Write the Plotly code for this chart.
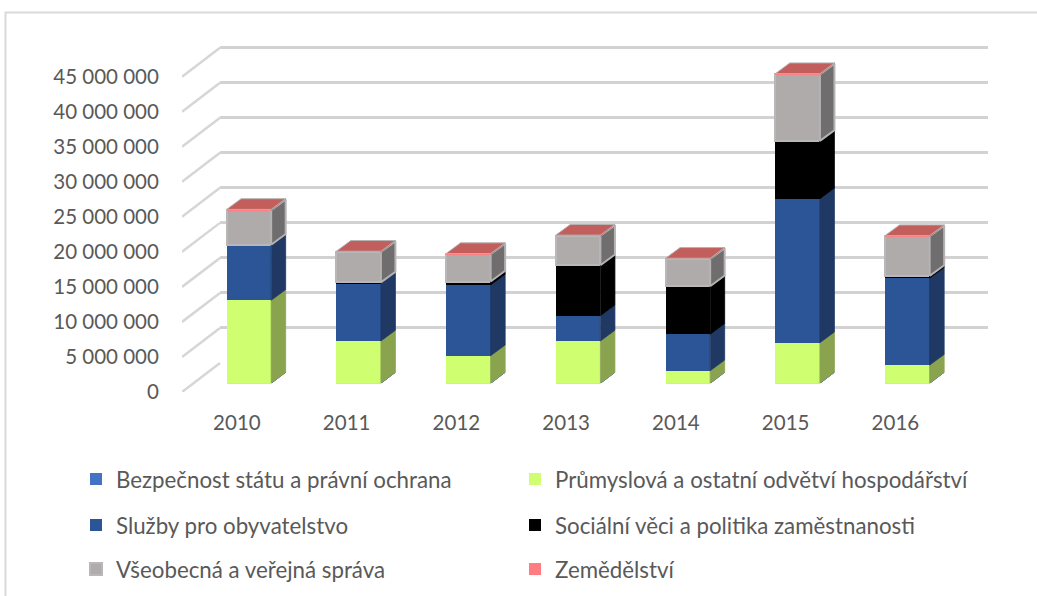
import plotly.graph_objects as go

years = [2010, 2011, 2012, 2013, 2014, 2015, 2016]
bezpecnost = [0.05, 0.05, 0.05, 0.05, 0.05, 0.05, 0.05]
prumysl = [11.8, 6.0, 3.9, 6.0, 1.75, 5.75, 2.55]
sluzby = [7.9, 8.25, 10.1, 3.6, 5.2, 20.55, 12.4]
socialni = [0.02, 0.1, 0.47, 7.2, 6.85, 8.25, 0.33]
sprava = [4.95, 4.35, 3.9, 4.2, 3.9, 9.5, 5.65]
zemedelstvi = [0.1, 0.1, 0.1, 0.1, 0.1, 0.1, 0.1]

names = ["Bezpečnost státu a právní ochrana", "Průmyslová a ostatní odvětví hospodářství",
         "Služby pro obyvatelstvo", "Sociální věci a politika zaměstnanosti",
         "Všeobecná a veřejná správa", "Zemědělství"]
series = [bezpecnost, prumysl, sluzby, socialni, sprava, zemedelstvi]
front_colors = ["#4472C4", "#CFFF70", "#2B5597", "#000000", "#AFABAB", "#FF7C80"]
side_colors = ["#2F5597", "#8AA34F", "#1F3864", "#000000", "#6F6D6D", "#C25F5D"]
top_color = "#C25F5D"
legend_px = [(76, 479), (515, 479), (76, 525), (515, 525), (76, 569), (515, 569)]
y_ticks = [v * 1_000_000 for v in range(0, 50, 5)]
y_labels = [f"{v} 000 000" if v else "0" for v in range(0, 50, 5)]

W, H = 1037, 596
CAT = 109.75           # px per category
UNIT = 35.03 / 5       # px per million
SPAN = 50              # y range, millions
FRONT = (182, 392)
BAR = (194, 383.3)
BACK = (220, 363)
GRID_DX, GRID_DY = 38, 29
BAR_DX, BAR_DY = 14.5, 10.7
BAR_W = 44.6 / CAT


def dom_x(x0):
    return [x0 / W, (x0 + 7 * CAT) / W]


def dom_y(y0):
    return [1 - y0 / H, 1 - (y0 - SPAN * UNIT) / H]


fig = go.Figure()
xr = [2009.5, 2016.5]
yr = [0, SPAN * 1_000_000]
hidden = dict(showgrid=False, zeroline=False, showticklabels=False, ticks="", showline=False, fixedrange=True)

# back wall gridlines
fig.add_trace(go.Scatter(x=[2010], y=[0], mode="markers", marker=dict(opacity=0), showlegend=False,
                         hoverinfo="skip", xaxis="x", yaxis="y"))
# floor / side wall diagonals and axis labels on the front plane
dx_yr = GRID_DX / CAT
dy_val = GRID_DY / UNIT * 1_000_000
diag_x, diag_y = [], []
for v in y_ticks:
    diag_x += [xr[0], xr[0] + dx_yr, None]
    diag_y += [v, v + dy_val, None]
fig.add_trace(go.Scatter(x=diag_x, y=diag_y, mode="lines", line=dict(color="#D6D6D6", width=2.5),
                         showlegend=False, hoverinfo="skip", xaxis="x2", yaxis="y2"))

# stacked bars with computed side and top faces
base = [0.0] * len(years)
bx = BAR_DX / CAT
by = BAR_DY / UNIT * 1_000_000
hw = BAR_W / 2
for i, (name, vals) in enumerate(zip(names, series)):
    m = [v * 1_000_000 for v in vals]
    line = dict(color="#B9B7B7", width=2) if name.startswith("Všeobecná") else dict(width=0)
    fig.add_trace(go.Bar(x=years, y=m, name=name, marker=dict(color=front_colors[i], line=line),
                         xaxis="x3", yaxis="y3", legend="legend" if i == 0 else f"legend{i + 1}"))
    sx, sy = [], []
    for j, yr_ in enumerate(years):
        b0 = base[j] * 1_000_000
        t0 = b0 + m[j]
        r = yr_ + hw
        sx += [r, r + bx, r + bx, r, r, None]
        sy += [b0, b0 + by, t0 + by, t0, b0, None]
        base[j] += vals[j]
    side_line = dict(color="#B4B2B2", width=2) if name.startswith("Všeobecná") else dict(width=0.8, color=side_colors[i])
    fig.add_trace(go.Scatter(x=sx, y=sy, mode="lines", fill="toself", fillcolor=side_colors[i], line=side_line,
                             showlegend=False, hoverinfo="skip", xaxis="x3", yaxis="y3"))

tx, ty = [], []
for j, yr_ in enumerate(years):
    t0 = base[j] * 1_000_000
    l, r = yr_ - hw, yr_ + hw
    tx += [l, r, r + bx, l + bx, l, None]
    ty += [t0, t0, t0 + by, t0 + by, t0, None]
fig.add_trace(go.Scatter(x=tx, y=ty, mode="lines", fill="toself", fillcolor=top_color,
                         line=dict(color="#B4B2B2", width=1), showlegend=False, hoverinfo="skip",
                         xaxis="x3", yaxis="y3"))

tick_font = dict(family="Lato, Carlito, sans-serif", size=20.5, color="#595959")
legend_font = dict(family="Lato, Carlito, sans-serif", size=22.3, color="#595959")
legends = {}
for i, (px, py) in enumerate(legend_px):
    key = "legend" if i == 0 else f"legend{i + 1}"
    legends[key] = dict(x=px / W, y=1 - py / H, xanchor="left", yanchor="middle", font=legend_font,
                        bgcolor="rgba(0,0,0,0)", borderwidth=0)

fig.update_layout(
    width=W, height=H, margin=dict(l=0, r=0, t=0, b=0, autoexpand=False), paper_bgcolor="white",
    plot_bgcolor="rgba(0,0,0,0)",
    barmode="stack", bargap=1 - BAR_W, font=tick_font, showlegend=True,
    xaxis=dict(domain=dom_x(BACK[0]), range=xr, anchor="y", **hidden),
    yaxis=dict(domain=dom_y(BACK[1]), range=yr, anchor="x", showgrid=True, gridcolor="#D2D2D2", gridwidth=2.5,
               tickvals=y_ticks, zeroline=False, showticklabels=False, ticks="", showline=False, fixedrange=True),
    xaxis2=dict(domain=dom_x(FRONT[0]), range=xr, anchor="y2", showgrid=False, zeroline=False, showline=False,
                tickvals=years, ticktext=[str(y) for y in years], ticks="outside", ticklen=12,
                tickcolor="rgba(0,0,0,0)", tickfont=tick_font, fixedrange=True),
    yaxis2=dict(domain=dom_y(FRONT[1]), range=yr, anchor="x2", showgrid=False, zeroline=False, showline=False,
                tickvals=y_ticks, ticktext=y_labels, ticks="outside", ticklen=18,
                tickcolor="rgba(0,0,0,0)", tickfont=tick_font, fixedrange=True),
    xaxis3=dict(domain=dom_x(BAR[0]), range=xr, anchor="y3", **hidden),
    yaxis3=dict(domain=dom_y(BAR[1]), range=yr, anchor="x3", **hidden),
    shapes=[dict(type="rect", xref="paper", yref="paper", x0=5.5 / W, x1=1.02, y0=-0.02, y1=1 - 12.5 / H,
                 line=dict(color="#D9D9D9", width=2), fillcolor="rgba(0,0,0,0)", layer="below")],
    **legends,
)

fig.write_html("out.html", config={"displayModeBar": False}, post_script="document.body.style.margin='0';")
